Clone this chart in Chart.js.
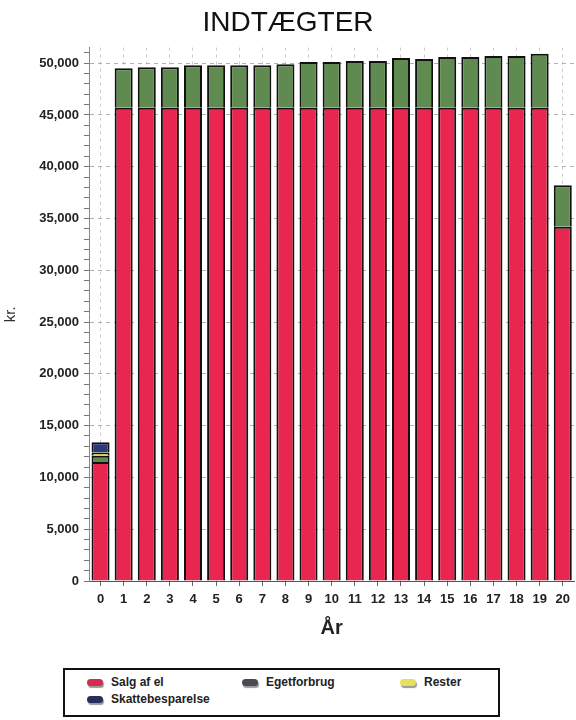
<!DOCTYPE html>
<html lang="da">
<head>
<meta charset="UTF-8">
<title>Indtægter</title>
<script src="https://cdn.jsdelivr.net/npm/chart.js@4.4.1/dist/chart.umd.min.js"></script>
<style>
  body { margin: 0; background: #fff; overflow: hidden; font-family: 'Liberation Sans', Arial, sans-serif; }
  #legend {
    position: absolute; left: 63px; top: 668px; width: 433px; height: 45px;
    border: 2px solid #111; box-sizing: content-box;
  }
  .item { position: absolute; font-size: 12px; font-weight: bold; color: #222; white-space: nowrap; }
  .sw { display: inline-block; width: 16px; height: 7px; border-radius: 4px; margin-right: 8px;
        vertical-align: middle; box-shadow: 1px 2px 1px #999; }
</style>
</head>
<body>
<canvas id="chart" width="576" height="645"></canvas>
<div id="legend"></div>

<script>
// years on the x axis
const years = ['0','1','2','3','4','5','6','7','8','9','10','11','12','13','14','15','16','17','18','19','20'];

// income per year, kr.
const salgAfEl = [11500, 45700, 45700, 45700, 45700, 45700, 45700, 45700, 45700, 45700, 45700,
                  45700, 45700, 45700, 45700, 45700, 45700, 45700, 45700, 45700, 34200];
const egetforbrug = [600, 3800, 3900, 3900, 4100, 4100, 4100, 4100, 4200, 4400, 4400,
                     4500, 4500, 4800, 4700, 4900, 4900, 5000, 5000, 5200, 4000];
const rester = [300, null, null, null, null, null, null, null, null, null, null,
                null, null, null, null, null, null, null, null, null, null];
const skattebesparelse = [1000, null, null, null, null, null, null, null, null, null, null,
                          null, null, null, null, null, null, null, null, null, null];

// labelled y ticks
const yLabels = [0, 5000, 10000, 15000, 20000, 25000, 30000, 35000, 40000, 45000, 50000];

const seriesNames = ['Salg af el', 'Egetforbrug', 'Rester', 'Skattebesparelse'];
const barColors = ['#e8264f', '#5f8a50', '#c8c850', '#2c3a78'];
// swatch colours as shown in the legend box
const legendColors = ['#d0304c', '#4a4a52', '#e6e05a', '#2a2c5c'];

const font = "'Liberation Sans', Arial, sans-serif";

const datasets = [salgAfEl, egetforbrug, rester, skattebesparelse].map((d, i) => ({
    label: seriesNames[i],
    data: d,
    backgroundColor: barColors[i],
    borderColor: '#111',
    borderWidth: 2,
    barPercentage: 0.78,
    categoryPercentage: 1.0
}));

const chart = new Chart(document.getElementById('chart'), {
    type: 'bar',
    data: { labels: years, datasets: datasets },
    options: {
        responsive: false,
        animation: false,
        devicePixelRatio: 1,
        layout: { padding: { left: 0, right: 0, top: 0, bottom: 0 } },
        plugins: {
            legend: { display: false },
            tooltip: { enabled: false },
            title: {
                display: true,
                text: 'INDTÆGTER',
                color: '#111',
                font: { family: font, size: 28, weight: 'normal' },
                padding: { top: 6, bottom: 8 }
            }
        },
        scales: {
            x: {
                stacked: true,
                afterFit: (s) => { s.height = 64; },
                grid: { offset: false, color: '#c8c8c8', tickColor: '#666', tickLength: 5 },
                border: { color: '#555', width: 1, dash: [3, 4] },
                ticks: { color: '#222', padding: 6, font: { family: font, size: 13, weight: 'bold' }, maxRotation: 0 },
                title: { display: true, text: 'År', color: '#222',
                         font: { family: font, size: 20, weight: 'bold' }, padding: { top: 0, bottom: 5 } }
            },
            y: {
                stacked: true,
                min: 0,
                max: 51500,
                afterFit: (s) => { s.width = 89; },
                // minor tick every 1000 kr., labels only on the 5000 marks
                afterBuildTicks: (s) => {
                    const t = [];
                    for (let v = 0; v <= 51000; v += 1000) t.push({ value: v });
                    s.ticks = t;
                },
                grid: {
                    color: (c) => (c.tick && yLabels.includes(c.tick.value) ? '#b0b0b0' : 'rgba(0,0,0,0)'),
                    tickColor: '#777',
                    tickLength: 5
                },
                border: { color: '#888', width: 1, dash: [4, 4] },
                ticks: {
                    autoSkip: false,
                    padding: 5,
                    color: '#222',
                    font: { family: font, size: 13, weight: 'bold' },
                    callback: (v) => (yLabels.includes(v) ? v.toLocaleString('en-US') : '')
                },
                title: { display: true, text: 'kr.', color: '#333',
                         font: { family: font, size: 15 }, padding: { top: 2, bottom: 0 } }
            }
        }
    }
});

// legend box under the chart
const legendPos = [[22, 5], [177, 5], [335, 5], [22, 22]];
const legendEl = document.getElementById('legend');
chart.data.datasets.forEach((ds, i) => {
    const item = document.createElement('div');
    item.className = 'item';
    item.style.left = legendPos[i][0] + 'px';
    item.style.top = legendPos[i][1] + 'px';
    const sw = document.createElement('span');
    sw.className = 'sw';
    sw.style.background = legendColors[i];
    item.appendChild(sw);
    item.appendChild(document.createTextNode(ds.label));
    legendEl.appendChild(item);
});
</script>
</body>
</html>
